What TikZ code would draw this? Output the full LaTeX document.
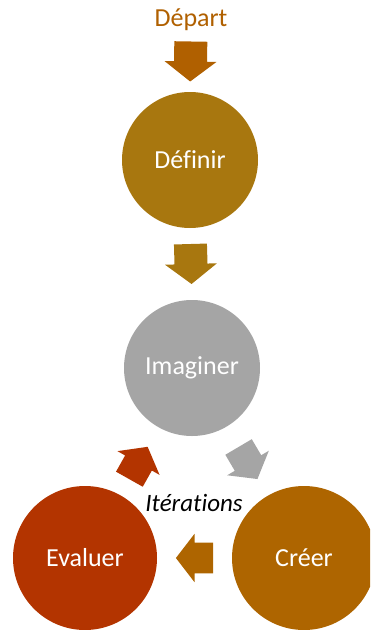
\documentclass[tikz,border=0pt]{standalone}
\usepackage{fontspec}
\setmainfont{Carlito}[Ligatures=NoCommon]
\usetikzlibrary{calc}
\definecolor{depart}{HTML}{B06000}
\definecolor{definir}{HTML}{A8770F}
\definecolor{imaginer}{HTML}{A5A5A5}
\definecolor{creer}{HTML}{AE6500}
\definecolor{evaluer}{HTML}{B33400}
\tikzset{
  etape/.style={circle,fill=#1,text=white,inner sep=0pt,font=\fontsize{26}{30}\selectfont},
  blockarrow/.pic={\fill[#1] (-20,-16.5) -- (0,-16.5) -- (0,-26) -- (20,0) -- (0,26) -- (0,16.5) -- (-20,16.5) -- cycle;}
}
\begin{document}
\begin{tikzpicture}[x=1pt,y=-1pt]
\useasboundingbox (0,0) rectangle (370,630);
\clip (0,0) rectangle (370,630);
% etapes
\node[text=depart,font=\fontsize{26}{30}\selectfont,inner sep=0pt] (dep) at (191,20) {Départ};
\node[etape=definir,minimum size=136pt] (def) at (190,160) {Définir};
\node[etape=imaginer,minimum size=136pt] (ima) at (192,368) {Imaginer};
\node[etape=evaluer,minimum size=144pt] (eva) at (85,558) {Evaluer};
\node[etape=creer,minimum size=144pt] (cre) at (304,558) {Créer};
\node[font=\fontsize{25}{30}\selectfont\itshape] (ite) at (194,503) {Itérations};
% fleches
\foreach \a/\b/\c/\s in {dep.south/def.north/depart/1, def.south/ima.north/definir/1, ima/cre/imaginer/0.93, cre/eva/creer/0.93, eva/ima/evaluer/0.93}
  \path let \p1=(\a), \p2=(\b), \n1={atan2(\y2-\y1,\x2-\x1)} in ($(\p1)!0.5!(\p2)$) pic[rotate=\n1,scale=\s] {blockarrow=\c};
\end{tikzpicture}
\end{document}
